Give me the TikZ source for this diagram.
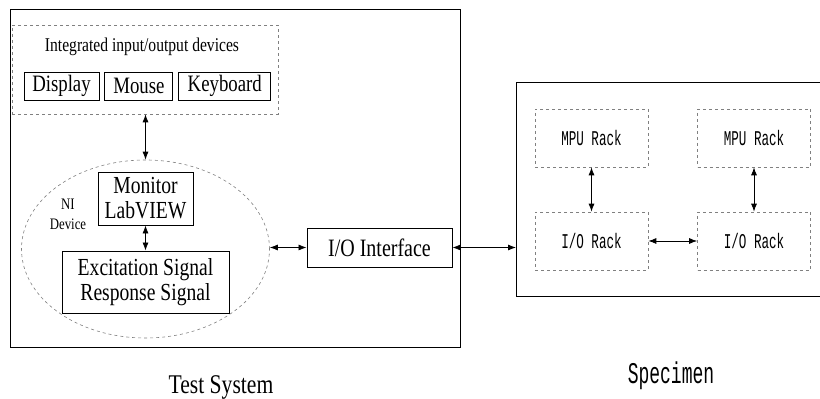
\documentclass[tikz,border=0pt]{standalone}
\usepackage{fontspec}
\setmainfont{Liberation Serif}[FakeStretch=0.8]
\newfontfamily\specfont{Liberation Mono}[FakeStretch=0.6]
\usepackage{tikz}
\usetikzlibrary{positioning,shapes.geometric,arrows.meta,calc}

\begin{document}
\begin{tikzpicture}[
    x=1pt,y=1pt,
    >={Latex[length=8pt,width=6pt]},
    node distance=5pt and 5pt,
    solidbox/.style={draw,line width=0.9pt,inner sep=1pt,align=center},
    dashbox/.style={draw=gray,dashed,line width=0.7pt,inner sep=1pt,align=center},
    devbox/.style={solidbox,minimum height=28pt,font=\fontsize{23.5}{25}\selectfont},
    rackbox/.style={dashbox,minimum width=113pt,minimum height=58pt,font=\specfont\fontsize{21}{22}\selectfont},
    arr/.style={<->,line width=0.8pt}
]
\useasboundingbox (0,0) rectangle (820,399);

% test system side
\node[solidbox,minimum width=450pt,minimum height=338pt] (testsys) at (235,221) {};
\node[dashbox,minimum width=266pt,minimum height=89pt] (iodev) at (145,329.5) {};
\node[font=\fontsize{19.5}{20}\selectfont] (iotitle) at (142,352) {Integrated input/output devices};
\node[devbox,minimum width=75pt] (display) at (61.5,313) {Display};
\node[devbox,minimum width=68pt,right=of display] (mouse) {Mouse};
\node[devbox,minimum width=92pt,right=of mouse] (keyboard) {Keyboard};

\node[draw=gray,dashed,ellipse,line width=0.6pt,minimum width=248pt,minimum height=178pt] (nidev) at (145.5,150) {};
\node[solidbox,minimum width=95pt,minimum height=53pt,font=\fontsize{24.5}{25}\selectfont] (monitor) at (145.5,200.5) {Monitor\\LabVIEW};
\node[solidbox,minimum width=167pt,minimum height=62pt,font=\fontsize{24.5}{25}\selectfont] (signal) at (145.5,117) {Excitation Signal\\Response Signal};
\node[align=center,font=\fontsize{16}{20}\selectfont] (nilabel) at (68,185) {NI\\Device};
\node[solidbox,minimum width=145pt,minimum height=39pt,font=\fontsize{25}{26}\selectfont] (ioif) at (379.5,151.5) {I/O Interface};

\draw[arr] (iodev.south -| nidev.north) -- (nidev.north);
\draw[arr] (monitor) -- (signal);
\draw[arr] (nidev.east |- ioif.west) -- (ioif.west);

% specimen side
\node[minimum width=304pt,minimum height=213pt,anchor=west] (spec) at (516,209.5) {};
\draw[line width=0.9pt] (spec.north east) -- (spec.north west) -- (spec.south west) -- (spec.south east);
\node[rackbox] (mpua) at (591.5,261) {MPU Rack};
\node[rackbox] (mpub) at (754,261) {MPU Rack};
\node[rackbox] (racka) at (591.5,158) {I/O Rack};
\node[rackbox] (rackb) at (754,158) {I/O Rack};

\draw[arr] (mpua) -- (racka);
\draw[arr] (mpub) -- (rackb);
\draw[arr] (racka) -- (rackb);
\draw[arr] (ioif.east) -- (ioif.east -| spec.west);

\node[font=\fontsize{27}{28}\selectfont] (tslabel) at (221,12) {Test System};
\node[font=\specfont\fontsize{30}{30}\selectfont] (speclabel) at (671,23) {Specimen};
\end{tikzpicture}
\end{document}
